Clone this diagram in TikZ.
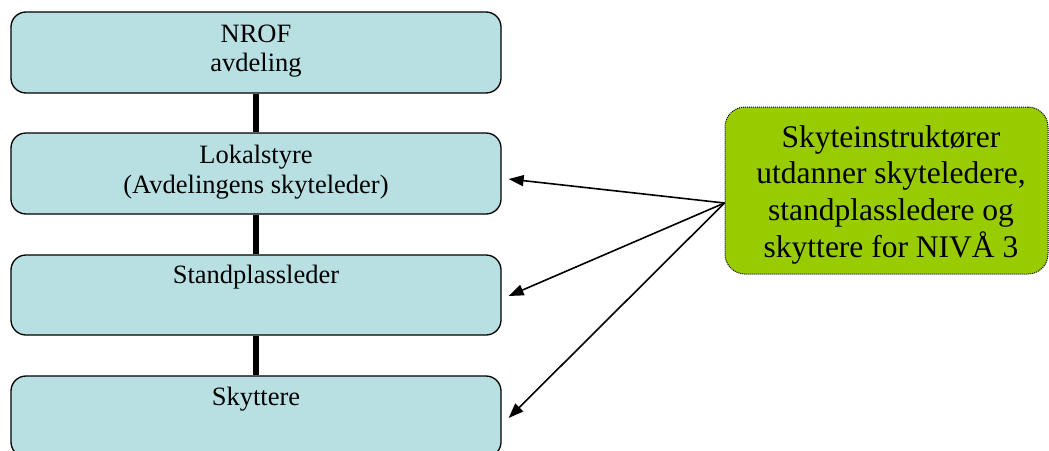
\documentclass[tikz,border=0pt]{standalone}
\usepackage{fontspec}
\setmainfont{LiberationSerif}[Extension=.ttf, UprightFont=*-Regular, BoldFont=*-Bold]
\usetikzlibrary{arrows.meta}
\definecolor{boxblue}{HTML}{B8E0E3}
\definecolor{boxgreen}{HTML}{99CC00}
\begin{document}
\begin{tikzpicture}[x=1pt,y=-1pt,
  levelbox/.style={draw=black, line width=1.3pt, fill=boxblue, rounded corners=15pt, minimum width=490pt, minimum height=81pt, inner sep=0pt},
  lbl/.style={anchor=base, inner sep=0pt, font=\fontsize{26.5}{30}\selectfont},
  notebox/.style={draw=black, dash pattern=on 1pt off 1pt, line width=1pt, fill=boxgreen, rounded corners=20pt, minimum width=323pt, minimum height=167pt, inner sep=0pt},
  glbl/.style={anchor=base, inner sep=0pt, font=\fontsize{31.5}{36}\selectfont},
  link/.style={line width=6pt},
  pointer/.style={line width=1.6pt, -{Triangle[length=15pt,width=11pt]}}]
\useasboundingbox (0,0) rectangle (1049,450);
% level boxes
\node[levelbox] (b1) at (256,52.5) {};
\node[levelbox] (b2) at (256,173.5) {};
\node[levelbox, minimum height=80pt] (b3) at (256,295) {};
\node[levelbox] (b4) at (256,416.5) {};
% links
\draw[link] (b1.south) -- (b2.north);
\draw[link] (b2.south) -- (b3.north);
\draw[link] (b3.south) -- (b4.north);
% labels
\node[lbl] (t1a) at (256,42.7) {NROF};
\node[lbl] (t1b) at (256,71) {avdeling};
\node[lbl] (t2a) at (256,163.3) {Lokalstyre};
\node[lbl] (t2b) at (256,193) {(Avdelingens skyteleder)};
\node[lbl] (t3a) at (256,283) {Standplassleder};
\node[lbl] (t4a) at (256,405.7) {Skyttere};
% note box
\node[notebox] (g) at (886.5,190.5) {};
\node[glbl] (g1) at (891,147) {Skyteinstruktører};
\node[glbl] (g2) at (891,183) {utdanner skyteledere,};
\node[glbl] (g3) at (891,220) {standplassledere og};
\node[glbl] (g4) at (891,257) {skyttere for NIVÅ 3};
% pointers
\coordinate (src) at ([yshift=-12.5pt]g.west);
\draw[pointer] (src) -- ([xshift=7pt,yshift=-5.5pt]b2.east);
\draw[pointer] (src) -- ([xshift=7pt,yshift=-1pt]b3.east);
\draw[pointer] (src) -- ([xshift=7pt,yshift=-1.5pt]b4.east);
\end{tikzpicture}
\end{document}
